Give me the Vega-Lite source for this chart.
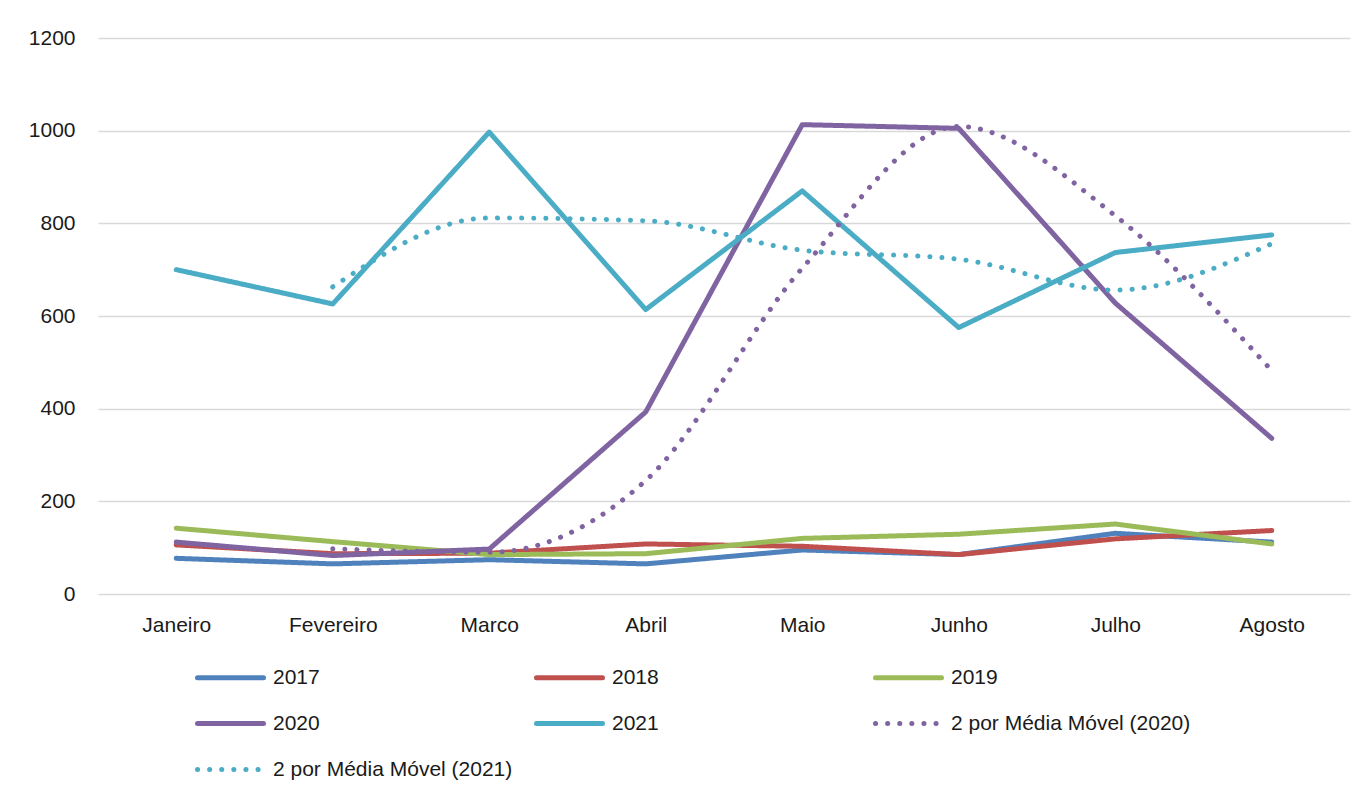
{
  "$schema": "https://vega.github.io/schema/vega-lite/v6.json",
  "width": 1252,
  "height": 556,
  "autosize": {"type": "none"},
  "padding": {"left": 98, "top": 38, "right": 17, "bottom": 202},
  "background": "white",
  "config": {
    "font": "Liberation Sans",
    "view": {"stroke": null}
  },
  "data": {
    "values": [
      {"mes": "Janeiro", "serie": "2017", "tipo": "real", "valor": 77},
      {"mes": "Fevereiro", "serie": "2017", "tipo": "real", "valor": 65},
      {"mes": "Marco", "serie": "2017", "tipo": "real", "valor": 74},
      {"mes": "Abril", "serie": "2017", "tipo": "real", "valor": 65},
      {"mes": "Maio", "serie": "2017", "tipo": "real", "valor": 95},
      {"mes": "Junho", "serie": "2017", "tipo": "real", "valor": 85},
      {"mes": "Julho", "serie": "2017", "tipo": "real", "valor": 131},
      {"mes": "Agosto", "serie": "2017", "tipo": "real", "valor": 112},
      {"mes": "Janeiro", "serie": "2018", "tipo": "real", "valor": 106},
      {"mes": "Fevereiro", "serie": "2018", "tipo": "real", "valor": 87},
      {"mes": "Marco", "serie": "2018", "tipo": "real", "valor": 88},
      {"mes": "Abril", "serie": "2018", "tipo": "real", "valor": 108},
      {"mes": "Maio", "serie": "2018", "tipo": "real", "valor": 103},
      {"mes": "Junho", "serie": "2018", "tipo": "real", "valor": 85},
      {"mes": "Julho", "serie": "2018", "tipo": "real", "valor": 119},
      {"mes": "Agosto", "serie": "2018", "tipo": "real", "valor": 137},
      {"mes": "Janeiro", "serie": "2019", "tipo": "real", "valor": 142},
      {"mes": "Fevereiro", "serie": "2019", "tipo": "real", "valor": 113},
      {"mes": "Marco", "serie": "2019", "tipo": "real", "valor": 85},
      {"mes": "Abril", "serie": "2019", "tipo": "real", "valor": 87},
      {"mes": "Maio", "serie": "2019", "tipo": "real", "valor": 120},
      {"mes": "Junho", "serie": "2019", "tipo": "real", "valor": 129},
      {"mes": "Julho", "serie": "2019", "tipo": "real", "valor": 151},
      {"mes": "Agosto", "serie": "2019", "tipo": "real", "valor": 108},
      {"mes": "Janeiro", "serie": "2020", "tipo": "real", "valor": 112},
      {"mes": "Fevereiro", "serie": "2020", "tipo": "real", "valor": 83},
      {"mes": "Marco", "serie": "2020", "tipo": "real", "valor": 97},
      {"mes": "Abril", "serie": "2020", "tipo": "real", "valor": 393},
      {"mes": "Maio", "serie": "2020", "tipo": "real", "valor": 1013},
      {"mes": "Junho", "serie": "2020", "tipo": "real", "valor": 1005},
      {"mes": "Julho", "serie": "2020", "tipo": "real", "valor": 628},
      {"mes": "Agosto", "serie": "2020", "tipo": "real", "valor": 336},
      {"mes": "Janeiro", "serie": "2021", "tipo": "real", "valor": 700},
      {"mes": "Fevereiro", "serie": "2021", "tipo": "real", "valor": 626},
      {"mes": "Marco", "serie": "2021", "tipo": "real", "valor": 997},
      {"mes": "Abril", "serie": "2021", "tipo": "real", "valor": 614},
      {"mes": "Maio", "serie": "2021", "tipo": "real", "valor": 870},
      {"mes": "Junho", "serie": "2021", "tipo": "real", "valor": 575},
      {"mes": "Julho", "serie": "2021", "tipo": "real", "valor": 737},
      {"mes": "Agosto", "serie": "2021", "tipo": "real", "valor": 775},
      {"mes": "Fevereiro", "serie": "2 por Média Móvel (2020)", "tipo": "mm", "valor": 97.5},
      {"mes": "Marco", "serie": "2 por Média Móvel (2020)", "tipo": "mm", "valor": 90},
      {"mes": "Abril", "serie": "2 por Média Móvel (2020)", "tipo": "mm", "valor": 245},
      {"mes": "Maio", "serie": "2 por Média Móvel (2020)", "tipo": "mm", "valor": 703},
      {"mes": "Junho", "serie": "2 por Média Móvel (2020)", "tipo": "mm", "valor": 1009},
      {"mes": "Julho", "serie": "2 por Média Móvel (2020)", "tipo": "mm", "valor": 816.5},
      {"mes": "Agosto", "serie": "2 por Média Móvel (2020)", "tipo": "mm", "valor": 482},
      {"mes": "Fevereiro", "serie": "2 por Média Móvel (2021)", "tipo": "mm", "valor": 663},
      {"mes": "Marco", "serie": "2 por Média Móvel (2021)", "tipo": "mm", "valor": 811.5},
      {"mes": "Abril", "serie": "2 por Média Móvel (2021)", "tipo": "mm", "valor": 805.5},
      {"mes": "Maio", "serie": "2 por Média Móvel (2021)", "tipo": "mm", "valor": 742},
      {"mes": "Junho", "serie": "2 por Média Móvel (2021)", "tipo": "mm", "valor": 722.5},
      {"mes": "Julho", "serie": "2 por Média Móvel (2021)", "tipo": "mm", "valor": 656},
      {"mes": "Agosto", "serie": "2 por Média Móvel (2021)", "tipo": "mm", "valor": 756}
    ]
  },
  "encoding": {
    "x": {
      "field": "mes",
      "type": "ordinal",
      "sort": ["Janeiro", "Fevereiro", "Marco", "Abril", "Maio", "Junho", "Julho", "Agosto"],
      "scale": {"type": "point", "padding": 0.5},
      "axis": {
        "title": null,
        "domain": false,
        "ticks": false,
        "grid": false,
        "labelAngle": 0,
        "labelFontSize": 21,
        "labelColor": "#1a1a1a",
        "labelPadding": 20
      }
    },
    "y": {
      "field": "valor",
      "type": "quantitative",
      "scale": {"domain": [0, 1200], "nice": false},
      "axis": {
        "title": null,
        "domain": false,
        "ticks": false,
        "values": [0, 200, 400, 600, 800, 1000, 1200],
        "format": "d",
        "grid": true,
        "gridColor": "#d9d9d9",
        "gridWidth": 1.5,
        "labelFontSize": 21,
        "labelColor": "#1a1a1a",
        "labelPadding": 23
      }
    },
    "color": {
      "field": "serie",
      "type": "nominal",
      "scale": {
        "domain": ["2017", "2018", "2019", "2020", "2021", "2 por Média Móvel (2020)", "2 por Média Móvel (2021)"],
        "range": ["#4F81BD", "#C0504D", "#9BBB59", "#8064A2", "#4BACC6", "#8064A2", "#4BACC6"]
      },
      "legend": {
        "title": null,
        "orient": "none",
        "legendX": 97,
        "legendY": 604,
        "direction": "horizontal",
        "columns": 3,
        "gridAlign": "all",
        "columnPadding": 13,
        "rowPadding": -4,
        "symbolType": "stroke",
        "symbolSize": 4356,
        "symbolStrokeWidth": 5,
        "labelFontSize": 21,
        "labelColor": "#1a1a1a",
        "labelOffset": 7,
        "labelLimit": 400,
        "encode": {"symbols": {"update": {"strokeCap": {"value": "round"}}}}
      }
    },
    "strokeDash": {
      "field": "serie",
      "type": "nominal",
      "scale": {
        "domain": ["2017", "2018", "2019", "2020", "2021", "2 por Média Móvel (2020)", "2 por Média Móvel (2021)"],
        "range": [[1, 0], [1, 0], [1, 0], [1, 0], [1, 0], [0.1, 12], [0.1, 12]]
      },
      "legend": null
    }
  },
  "layer": [
    {
      "transform": [{"filter": "datum.tipo === 'real'"}],
      "mark": {"type": "line", "strokeWidth": 5, "strokeCap": "round", "strokeJoin": "round"}
    },
    {
      "transform": [{"filter": "datum.tipo === 'mm'"}],
      "mark": {"type": "line", "strokeWidth": 5, "strokeCap": "round", "interpolate": "monotone"}
    }
  ]
}
